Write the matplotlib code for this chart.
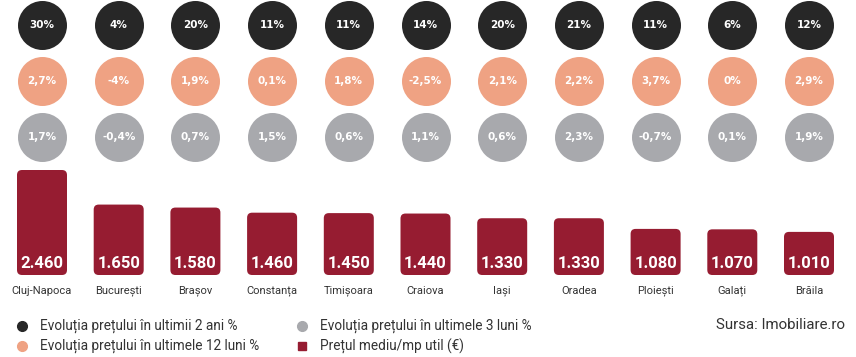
import matplotlib
matplotlib.use("Agg")
import matplotlib.pyplot as plt
from matplotlib.patches import FancyBboxPatch

# data
cities = ["Cluj-Napoca", "București", "Brașov", "Constanța", "Timișoara", "Craiova",
          "Iași", "Oradea", "Ploiești", "Galați", "Brăila"]
price_m2 = [2460, 1650, 1580, 1460, 1450, 1440, 1330, 1330, 1080, 1070, 1010]
price_labels = ["2.460", "1.650", "1.580", "1.460", "1.450", "1.440",
                "1.330", "1.330", "1.080", "1.070", "1.010"]
evol_2y = ["30%", "4%", "20%", "11%", "11%", "14%", "20%", "21%", "11%", "6%", "12%"]
evol_12m = ["2,7%", "-4%", "1,9%", "0,1%", "1,8%", "-2,5%", "2,1%", "2,2%", "3,7%", "0%", "2,9%"]
evol_3m = ["1,7%", "-0,4%", "0,7%", "1,5%", "0,6%", "1,1%", "0,6%", "2,3%", "-0,7%", "0,1%", "1,9%"]

legend_labels = ["Evoluția prețului în ultimii 2 ani %",
                 "Evoluția prețului în ultimele 12 luni %",
                 "Evoluția prețului în ultimele 3 luni %",
                 "Prețul mediu/mp util (€)"]

DARK = "#272727"
SALMON = "#EFA283"
GREY = "#A8A9AD"
RED = "#961C31"
TEXT = "#333333"

W, H = 856, 357
fig = plt.figure(figsize=(W / 100, H / 100), dpi=100)


def px_axes(left, top, width, height):
    ax = fig.add_axes([left / W, 1 - (top + height) / H, width / W, height / H])
    ax.axis("off")
    return ax


step = 76.7
xlim = (-42 / step, 10 + (W - 809) / step)
xs = list(range(len(cities)))

# circles
ax_c = px_axes(0, 0, W, 165)
ax_c.set_xlim(*xlim)
ax_c.set_ylim(2.5, -25 / 56)
rows = [(evol_2y, DARK), (evol_12m, SALMON), (evol_3m, GREY)]
size = (49 * 72 / 100) ** 2
for r, (vals, col) in enumerate(rows):
    ax_c.scatter(xs, [r] * len(xs), s=size, color=col, linewidths=0)
    for x, t in zip(xs, vals):
        ax_c.text(x, r, t, ha="center", va="center", color="white",
                  fontsize=7.5, fontweight="bold", family="DejaVu Sans")

# bars
bar_h = 115
ax_b = px_axes(0, 160, W, bar_h)
ax_b.set_xlim(*xlim)
ymax = 2460 * bar_h / 105
ax_b.set_ylim(0, ymax)
px_x = 1 / step
px_y = ymax / bar_h
bw = 50 * px_x
for x, v, lab in zip(xs, price_m2, price_labels):
    ax_b.add_patch(FancyBboxPatch((x - bw / 2, 0), bw, v,
                                  boxstyle=f"round,pad=0,rounding_size={5 * px_x}",
                                  mutation_aspect=px_y / px_x,
                                  facecolor=RED, edgecolor="none"))
    ax_b.annotate(lab, (x, 0), xytext=(0, 8.3), textcoords="offset points",
                  ha="center", va="center", color="white", fontsize=12,
                  fontweight="bold", family="Roboto")
for x, c in zip(xs, cities):
    ax_b.annotate(c, (x, 0), xytext=(0, -11.5), textcoords="offset points",
                  ha="center", va="center", color=TEXT, fontsize=8,
                  family="Roboto", annotation_clip=False)

# legend and source
ax_l = px_axes(0, 0, W, H)
ax_l.set_xlim(0, W)
ax_l.set_ylim(H, 0)
leg = [(22, 326, "o", DARK), (22, 346, "o", SALMON),
       (302, 326, "o", GREY), (302, 346, "s", RED)]
for (lx, ly, m, col), lab in zip(leg, legend_labels):
    ax_l.plot([lx], [ly], marker=m, color=col, markersize=7 if m == "o" else 6,
              linestyle="none")
    ax_l.text(lx + 18, ly, lab, ha="left", va="center", color=TEXT,
              fontsize=9.8, family="Roboto")
ax_l.text(845, 325, "Sursa: Imobiliare.ro", ha="right", va="center",
          color=TEXT, fontsize=10.8, family="Roboto")

fig.savefig("out.png", dpi=100)
